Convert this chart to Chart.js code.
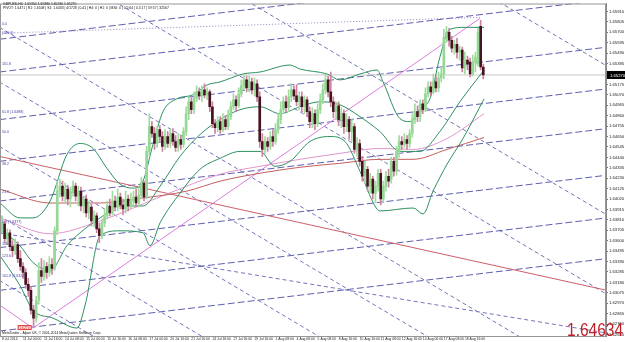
<!DOCTYPE html>
<html><head><meta charset="utf-8">
<script src="https://cdn.jsdelivr.net/npm/chart.js@4.4.0/dist/chart.umd.min.js"></script>
<style>html,body{margin:0;padding:0;background:#fff;overflow:hidden}#wrap{width:625px;height:342px}</style>
</head><body><div id="wrap"><canvas id="c" width="625" height="342"></canvas></div>
<script>
// ---- data ----
const timeLabels = ["8 Jul 2014","11 Jul 00:00","11 Jul 16:00","14 Jul 08:00","15 Jul 00:00","15 Jul 16:00","16 Jul 08:00","17 Jul 00:00","20 Jul 16:00","21 Jul 16:00","24 Jul 16:00","27 Jul 16:00","29 Jul 16:00","1 Aug 08:00","4 Aug 08:00","5 Aug 08:00","8 Aug 16:00","10 Aug 16:00","11 Aug 08:00","12 Aug 16:00","14 Aug 00:00","17 Aug 08:00","18 Aug 16:00"];
const yTickLabels = [1.65910,1.65805,1.65700,1.65595,1.65490,1.65385,1.65280,1.65175,1.65070,1.64965,1.64860,1.64755,1.64650,1.64545,1.64440,1.64335,1.64230,1.64125,1.64020,1.63915,1.63810,1.63705,1.63600,1.63495,1.63390,1.63285,1.63180,1.63075,1.62970,1.62865,1.62760,1.62655];

const openP = [1.6372,1.6377,1.6362,1.6368,1.6354,1.6350,1.6356,1.6342,1.6334,1.6328,
1.6316,1.6310,1.6290,1.6282,1.6300,1.6330,1.6324,1.6334,1.6328,1.6336,
1.6332,1.6370,1.6410,1.6415,1.6405,1.6412,1.6402,1.6410,1.6415,1.6405,
1.6410,1.6395,1.6402,1.6388,1.6394,1.6380,1.6385,1.6372,1.6365,1.6378,
1.6385,1.6395,1.6388,1.6400,1.6394,1.6404,1.6396,1.6392,1.6402,1.6395,
1.6400,1.6404,1.6398,1.6406,1.6418,1.6404,1.6450,1.6475,1.6468,1.6458,
1.6472,1.6465,1.6455,1.6465,1.6458,1.6468,1.6460,1.6454,1.6462,1.6457,
1.6470,1.6488,1.6500,1.6492,1.6504,1.6510,1.6506,1.6512,1.6507,1.6510,
1.6495,1.6478,1.6474,1.6480,1.6472,1.6482,1.6475,1.6485,1.6495,1.6502,
1.6496,1.6508,1.6516,1.6522,1.6514,1.6520,1.6512,1.6518,1.6505,1.6460,
1.6452,1.6460,1.6455,1.6465,1.6460,1.6472,1.6482,1.6492,1.6500,1.6494,
1.6505,1.6512,1.6506,1.6500,1.6505,1.6495,1.6502,1.6490,1.6480,1.6488,
1.6478,1.6492,1.6502,1.6512,1.6522,1.6510,1.6500,1.6490,1.6496,1.6482,
1.6488,1.6475,1.6482,1.6470,1.6475,1.6452,1.6458,1.6440,1.6425,1.6432,
1.6415,1.6422,1.6408,1.6415,1.6428,1.6402,1.6415,1.6425,1.6422,1.6440,
1.6430,1.6450,1.6460,1.6457,1.6462,1.6458,1.6468,1.6482,1.6490,1.6485,
1.6498,1.6492,1.6508,1.6515,1.6510,1.6520,1.6514,1.6524,1.6528,1.6565,
1.6570,1.6562,1.6554,1.6558,1.6550,1.6552,1.6534,1.6542,1.6540,1.6528,
1.6540,1.6538,1.6576,1.6535];
const highP = [1.6385,1.6380,1.6372,1.6371,1.6360,1.6362,1.6359,1.6350,1.6338,1.6332,
1.6322,1.6314,1.6295,1.6304,1.6338,1.6342,1.6340,1.6338,1.6344,1.6342,
1.6374,1.6420,1.6422,1.6420,1.6418,1.6416,1.6414,1.6420,1.6418,1.6415,
1.6414,1.6405,1.6406,1.6400,1.6397,1.6390,1.6388,1.6378,1.6382,1.6392,
1.6400,1.6402,1.6410,1.6405,1.6412,1.6408,1.6402,1.6410,1.6406,1.6408,
1.6410,1.6412,1.6414,1.6424,1.6420,1.6455,1.6488,1.6480,1.6474,1.6476,
1.6476,1.6470,1.6472,1.6470,1.6472,1.6473,1.6466,1.6468,1.6466,1.6474,
1.6495,1.6505,1.6504,1.6510,1.6516,1.6514,1.6516,1.6518,1.6514,1.6512,
1.6500,1.6482,1.6485,1.6485,1.6488,1.6486,1.6492,1.6500,1.6508,1.6506,
1.6514,1.6522,1.6528,1.6526,1.6526,1.6524,1.6524,1.6522,1.6510,1.6468,
1.6465,1.6464,1.6470,1.6472,1.6478,1.6488,1.6500,1.6505,1.6506,1.6512,
1.6518,1.6516,1.6517,1.6510,1.6510,1.6506,1.6505,1.6495,1.6494,1.6492,
1.6498,1.6508,1.6518,1.6528,1.6526,1.6530,1.6505,1.6500,1.6500,1.6494,
1.6492,1.6488,1.6485,1.6482,1.6478,1.6464,1.6462,1.6445,1.6440,1.6435,
1.6428,1.6425,1.6420,1.6432,1.6432,1.6420,1.6430,1.6432,1.6444,1.6444,
1.6455,1.6466,1.6465,1.6468,1.6466,1.6472,1.6488,1.6498,1.6496,1.6502,
1.6502,1.6514,1.6520,1.6520,1.6528,1.6526,1.6530,1.6535,1.6573,1.6576,
1.6574,1.6566,1.6562,1.6564,1.6556,1.6555,1.6550,1.6546,1.6544,1.6547,
1.6550,1.6574,1.6582,1.6538];
const lowP = [1.6368,1.6358,1.6356,1.6350,1.6344,1.6346,1.6338,1.6330,1.6322,1.6312,
1.6304,1.6286,1.6274,1.6278,1.6296,1.6318,1.6320,1.6322,1.6324,1.6326,
1.6330,1.6366,1.6404,1.6400,1.6398,1.6396,1.6394,1.6405,1.6400,1.6395,
1.6390,1.6388,1.6384,1.6382,1.6375,1.6374,1.6368,1.6358,1.6362,1.6374,
1.6382,1.6385,1.6386,1.6390,1.6390,1.6392,1.6386,1.6388,1.6390,1.6392,
1.6396,1.6394,1.6394,1.6402,1.6400,1.6402,1.6445,1.6464,1.6452,1.6454,
1.6460,1.6450,1.6452,1.6454,1.6454,1.6456,1.6450,1.6450,1.6452,1.6454,
1.6466,1.6482,1.6488,1.6488,1.6500,1.6502,1.6500,1.6504,1.6502,1.6490,
1.6474,1.6468,1.6470,1.6468,1.6470,1.6472,1.6472,1.6482,1.6492,1.6490,
1.6494,1.6505,1.6512,1.6510,1.6510,1.6508,1.6506,1.6500,1.6454,1.6445,
1.6448,1.6450,1.6452,1.6455,1.6457,1.6468,1.6478,1.6488,1.6490,1.6490,
1.6500,1.6502,1.6496,1.6492,1.6490,1.6488,1.6485,1.6474,1.6474,1.6472,
1.6475,1.6488,1.6498,1.6508,1.6505,1.6495,1.6484,1.6482,1.6476,1.6474,
1.6468,1.6470,1.6462,1.6460,1.6448,1.6445,1.6435,1.6420,1.6418,1.6410,
1.6408,1.6402,1.6398,1.6410,1.6396,1.6398,1.6410,1.6414,1.6418,1.6425,
1.6426,1.6444,1.6452,1.6454,1.6452,1.6454,1.6464,1.6478,1.6480,1.6480,
1.6488,1.6490,1.6505,1.6506,1.6508,1.6510,1.6510,1.6520,1.6523,1.6560,
1.6556,1.6550,1.6548,1.6544,1.6542,1.6530,1.6528,1.6532,1.6525,1.6526,
1.6530,1.6536,1.6532,1.6523];
const closeP = [1.6378,1.6362,1.6368,1.6354,1.6350,1.6356,1.6342,1.6334,1.6328,1.6316,
1.6310,1.6290,1.6282,1.6300,1.6330,1.6324,1.6334,1.6328,1.6336,1.6332,
1.6370,1.6410,1.6415,1.6405,1.6412,1.6402,1.6410,1.6415,1.6405,1.6410,
1.6395,1.6402,1.6388,1.6394,1.6380,1.6385,1.6372,1.6365,1.6378,1.6385,
1.6395,1.6388,1.6400,1.6394,1.6404,1.6396,1.6392,1.6402,1.6395,1.6400,
1.6404,1.6398,1.6406,1.6418,1.6404,1.6450,1.6475,1.6468,1.6458,1.6472,
1.6465,1.6455,1.6465,1.6458,1.6468,1.6460,1.6454,1.6462,1.6457,1.6470,
1.6488,1.6500,1.6492,1.6504,1.6510,1.6506,1.6512,1.6507,1.6510,1.6495,
1.6478,1.6474,1.6480,1.6472,1.6482,1.6475,1.6485,1.6495,1.6502,1.6496,
1.6508,1.6516,1.6522,1.6514,1.6520,1.6512,1.6518,1.6505,1.6460,1.6452,
1.6460,1.6455,1.6465,1.6460,1.6472,1.6482,1.6492,1.6500,1.6494,1.6505,
1.6512,1.6506,1.6500,1.6505,1.6495,1.6502,1.6490,1.6480,1.6488,1.6478,
1.6492,1.6502,1.6512,1.6522,1.6510,1.6500,1.6490,1.6496,1.6482,1.6488,
1.6475,1.6482,1.6470,1.6475,1.6452,1.6458,1.6440,1.6425,1.6432,1.6415,
1.6422,1.6408,1.6415,1.6428,1.6402,1.6415,1.6425,1.6420,1.6440,1.6430,
1.6450,1.6460,1.6457,1.6462,1.6458,1.6468,1.6482,1.6490,1.6485,1.6498,
1.6492,1.6508,1.6515,1.6510,1.6520,1.6514,1.6524,1.6528,1.6565,1.6570,
1.6562,1.6554,1.6558,1.6550,1.6552,1.6534,1.6542,1.6538,1.6528,1.6540,
1.6545,1.6570,1.6535,1.6527];

// Bollinger bands and moving averages read at sample bars: [bar, price]
const upperBand = [[-0.8,1.6398],[6.8,1.6383],[11.8,1.6383],[18.3,1.6400],[24.7,1.6447],[29.7,1.6458],[34.6,1.6453],[39.9,1.6433],[44.9,1.6417],[49.8,1.6413],[53.6,1.6420],[57.4,1.6457],[61.2,1.6490],[66.5,1.6503],[72.6,1.6507],[78.0,1.6517],[82.9,1.6520],[91.6,1.6528],[98.1,1.6530],[109.5,1.6537],[113.3,1.6533],[123.6,1.6528],[128.5,1.6522],[136.1,1.6528],[142.6,1.6532],[144.9,1.6520],[151.3,1.6483],[155.1,1.6480],[158.9,1.6493],[162.7,1.6503],[166.5,1.6545],[170.3,1.6573],[176.1,1.6575],[183.3,1.6575]];
const middleBand = [[-0.8,1.6372],[6.8,1.6355],[11.8,1.6338],[18.3,1.6330],[24.7,1.6355],[29.7,1.6368],[37.3,1.6383],[44.9,1.6395],[53.6,1.6395],[60.1,1.6415],[67.7,1.6445],[75.3,1.6467],[82.9,1.6482],[90.5,1.6492],[98.1,1.6495],[105.7,1.6488],[113.3,1.6495],[120.9,1.6500],[128.5,1.6497],[136.1,1.6485],[143.7,1.6470],[151.3,1.6450],[158.9,1.6450],[166.5,1.6470],[174.1,1.6500],[183.3,1.6532]];
const lowerBand = [[-0.8,1.6345],[6.8,1.6315],[11.8,1.6290],[19.4,1.6282],[28.5,1.6272],[31.6,1.6295],[37.3,1.6365],[44.9,1.6370],[53.6,1.6368],[56.3,1.6355],[60.1,1.6378],[67.7,1.6408],[75.3,1.6432],[82.9,1.6443],[90.5,1.6450],[98.1,1.6450],[103.8,1.6435],[109.5,1.6440],[117.1,1.6460],[124.7,1.6465],[130.4,1.6460],[136.1,1.6430],[141.8,1.6395],[143.7,1.6390],[156.3,1.6393],[160.1,1.6387],[163.9,1.6410],[169.2,1.6437],[175.3,1.6463],[183.3,1.6503]];
const slowMA = [[-0.8,1.6412],[18.3,1.6398],[37.3,1.6398],[53.6,1.6403],[70.3,1.6410],[82.9,1.6420],[98.1,1.6428],[113.3,1.6434],[128.5,1.6438],[143.7,1.6442],[156.3,1.6442],[169.2,1.6452],[183.3,1.6464]];
const fastMA = [[-0.8,1.6383],[18.3,1.6367],[37.3,1.6380],[62.7,1.6407],[82.9,1.6427],[98.1,1.6435],[113.3,1.6442],[128.5,1.6448],[143.7,1.6453],[156.3,1.6452],[169.2,1.6463],[183.3,1.6488]];

// drawn objects: [bar1, price1, bar2, price2]
const risingLines = [[-1,1.6563,230,1.6636],[-1,1.6530,230,1.6603],[-1,1.6482,230,1.6555],[-1,1.6440,230,1.6513],[-1,1.6400,230,1.6473],[-1,1.6353,230,1.6426],[-1,1.6310,230,1.6383],[-1,1.6269,230,1.6342]];
const fallingLines = [[-1,1.6900,230,1.6536],[-1,1.6750,230,1.6386],[-1,1.6670,230,1.6306],[-1,1.6575,230,1.6211],[-1,1.6520,230,1.6156],[-1,1.6455,230,1.6091],[-1,1.6385,230,1.6021],[-1,1.6320,230,1.5956],[-1,1.6368,230,1.6267]];
const redLine = [-1,1.6445,230,1.6310];
const dottedLine = [-1,1.6569,181.7,1.6585];
const magentaPath = [[-0.8,1.6295],[11.8,1.6272],[181.7,1.6584]];
const fibLabels = [[1.6576,"0.0"],[1.6567,"(100.0)"],[1.6536,"161.8"],[1.6488,"61.8 (1.6488)"],[1.6468,"50.0"],[1.6435,"38.2"],[1.6407,"23.6"],[1.6377,"0.0 (1.6377)"],[1.6355,"100.0"],[1.6343,"123.6"],[1.6322,"161.8 (1.6322)"]];
const bigLabel = "1.64634";
const lowMark = 1.6274;

// ---- chart ----
const lastClose = closeP[closeP.length-1];
const bullBody='rgb(150,215,150)', bearBody='rgb(70,20,30)', bullWick='rgb(160,220,160)', bearWick='rgb(205,130,160)';
const isUp = i => closeP[i] >= openP[i];
const pts = arr => arr.map(p => ({x:p[0], y:p[1]}));
const seg = (l) => [{x:l[0],y:l[1]},{x:l[2],y:l[3]}];

const datasets = [];
risingLines.forEach(l => datasets.push({type:'line', data:seg(l), borderColor:'rgb(95,95,175)', borderWidth:1, borderDash:[7,3], pointRadius:0, order:20}));
fallingLines.forEach(l => datasets.push({type:'line', data:seg(l), borderColor:'rgb(115,115,185)', borderWidth:1, borderDash:[4,3], pointRadius:0, order:20}));
datasets.push({type:'line', data:seg(dottedLine), borderColor:'rgb(150,130,190)', borderWidth:1, borderDash:[1,2], pointRadius:0, order:19});
datasets.push({type:'line', data:[{x:-1,y:lastClose},{x:231,y:lastClose}], borderColor:'rgb(200,200,200)', borderWidth:1, pointRadius:0, order:19});
datasets.push({type:'line', data:seg(redLine), borderColor:'rgb(205,95,105)', borderWidth:1, pointRadius:0, order:18});
datasets.push({type:'line', data:pts(magentaPath), borderColor:'rgb(220,125,225)', borderWidth:1, pointRadius:0, order:18});
datasets.push({type:'line', data:pts(slowMA), borderColor:'rgb(195,95,95)', borderWidth:1, pointRadius:0, cubicInterpolationMode:'monotone', order:17});
datasets.push({type:'line', data:pts(fastMA), borderColor:'rgb(225,150,205)', borderWidth:1, pointRadius:0, cubicInterpolationMode:'monotone', order:17});
[upperBand, middleBand, lowerBand].forEach(b => datasets.push({type:'line', data:pts(b), borderColor:'rgb(45,145,95)', borderWidth:1, pointRadius:0, cubicInterpolationMode:'monotone', order:16}));
datasets.push({type:'bar', data:lowP.map((l,i)=>({x:i, y:[l, highP[i]]})), backgroundColor:c=>isUp(c.dataIndex)?bullWick:bearWick, barThickness:1, grouped:false, order:5});
datasets.push({type:'bar', data:openP.map((o,i)=>({x:i, y:[o, closeP[i]]})), backgroundColor:c=>isUp(c.dataIndex)?bullBody:bearBody, barThickness:2, minBarLength:1, grouped:false, order:4});

const overlay = {
  id:'overlay',
  afterDraw(chart){
    const {ctx, chartArea:a, scales:{x, y}} = chart;
    ctx.save();
    ctx.strokeStyle='rgb(150,150,150)'; ctx.lineWidth=1;
    ctx.strokeRect(a.left+0.5, a.top+0.5, a.right-a.left-1, a.bottom-a.top);
    ctx.textBaseline='alphabetic'; ctx.textAlign='left';
    ctx.fillStyle='#111'; ctx.font='3.4px "Liberation Sans"';
    ctx.fillText('GBPUSD,H4  1.65350 1.65380 1.65230 1.65270', 3, 5);
    ctx.fillText('PIVOT: 1.6471 | R1: 1.6508 | S1: 1.6433 | 4/1728 | 0.41 | H4: 0 | H1: 0 | M30: 0 | 0.5:64 | 0.5:17 | 59:57 | 32567', 3, 8.5);
    ctx.fillText('MetaTrader - Alpari UK, \u00a9 2001-2014 MetaQuotes Software Corp.', 2, 334);
    ctx.fillStyle='rgb(70,70,170)'; ctx.font='3.6px "Liberation Sans"';
    fibLabels.forEach(f => ctx.fillText(f[1], 2, y.getPixelForValue(f[0]) - 1));
    // low marker
    const ly = y.getPixelForValue(lowMark), lx = x.getPixelForValue(9);
    ctx.fillStyle='rgb(255,225,225)'; ctx.fillRect(lx-8, ly-1, 14, 5);
    ctx.strokeStyle='rgb(220,60,60)'; ctx.strokeRect(lx-7.5, ly-0.5, 13, 4);
    ctx.fillStyle='rgb(210,40,40)'; ctx.font='3.4px "Liberation Sans"'; ctx.fillText(lowMark.toFixed(4), lx-6.5, ly+2.6);
    // current price box
    const cy = y.getPixelForValue(lastClose);
    ctx.fillStyle='#000'; ctx.fillRect(a.right+1, cy-4, 625-a.right-1, 8);
    ctx.fillStyle='#fff'; ctx.font='4.2px "Liberation Sans"'; ctx.fillText(lastClose.toFixed(5), a.right+4, cy+1.6);
    // big label
    ctx.translate(623, 336); ctx.scale(0.86, 1);
    ctx.fillStyle='rgb(190,30,40)'; ctx.font='18px "Liberation Sans"'; ctx.textAlign='right';
    ctx.fillText(bigLabel, 0, 0);
    ctx.restore();
  }
};

new Chart(document.getElementById('c'), {
  type:'bar',
  data:{datasets},
  options:{
    responsive:false, animation:false, devicePixelRatio:1,
    layout:{padding:{top:1,left:0,right:0,bottom:0}},
    plugins:{legend:{display:false}, tooltip:{enabled:false}},
    scales:{
      x:{type:'linear', min:-0.76, max:229.66, offset:false,
         grid:{display:true, drawOnChartArea:false, tickLength:1, color:'#777', offset:false},
         border:{color:'#888'},
         afterBuildTicks(s){ s.ticks = timeLabels.map((t,i)=>({value:i*8})); },
         ticks:{font:{size:3.4, family:'Liberation Sans'}, color:'#222', align:'start', maxRotation:0, autoSkip:false, padding:0, callback:(v,i)=>timeLabels[i]},
         afterFit(s){ s.height = 6; }},
      y:{position:'right', min:1.6264, max:1.6599,
         grid:{display:true, drawOnChartArea:false, tickLength:2, color:'#777'},
         border:{color:'#888'},
         afterBuildTicks(s){ s.ticks = yTickLabels.map(v=>({value:v})); },
         ticks:{font:{size:4.2, family:'Liberation Sans'}, color:'#222', padding:1, autoSkip:false, callback:v=>v.toFixed(5)},
         afterFit(s){ s.width = 19; }}
    }
  },
  plugins:[overlay]
});
</script></body></html>
